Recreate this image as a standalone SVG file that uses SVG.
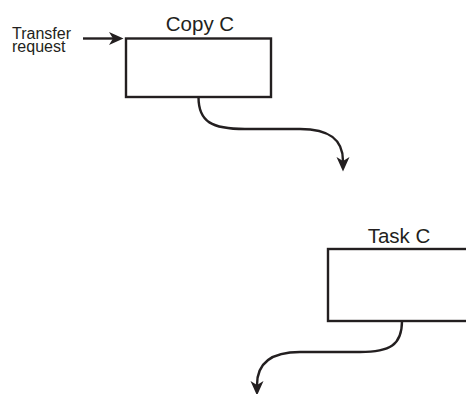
<svg xmlns="http://www.w3.org/2000/svg" width="466" height="394" viewBox="0 0 466 394">
<style>
.box{fill:#fff;stroke:#231f20;stroke-width:2.4}
.lbl{font-family:"Liberation Sans",Arial,sans-serif;fill:#231f20}
.big{font-size:20.5px;text-anchor:middle}
.small{font-size:16px}
.conn{fill:none;stroke:#231f20;stroke-width:2.4}
</style>
<defs>
<marker id="ah" markerUnits="userSpaceOnUse" markerWidth="16" markerHeight="14" viewBox="0 -7 16 14" refX="4" refY="0" orient="auto">
<path d="M0,-6.5 L14.5,0 L0,6.5 L4,0 Z" fill="#231f20"/>
</marker>
</defs>
<g id="copyC">
<rect class="box" x="126" y="38.5" width="145" height="58.5"/>
<text class="lbl big" x="200" y="31">Copy C</text>
</g>
<g id="taskC">
<rect class="box" x="328" y="249" width="142" height="72"/>
<text class="lbl big" x="399" y="242.5">Task C</text>
</g>
<g id="transferRequest">
<text class="lbl small" x="12" y="39">Transfer<tspan x="12" y="52">request</tspan></text>
</g>
<g id="connectors">
<path class="conn" d="M83,38.5 L113,38.5" marker-end="url(#ah)"/>
<path class="conn" d="M198.5,97 C198.5,122 212,129 245,129 L300,129 C330,129 343,140 343,161" marker-end="url(#ah)"/>
<path class="conn" d="M402,321 C402,345 390,352 360,352 L300,352 C272,352 257,362 257,385" marker-end="url(#ah)"/>
</g>
</svg>
